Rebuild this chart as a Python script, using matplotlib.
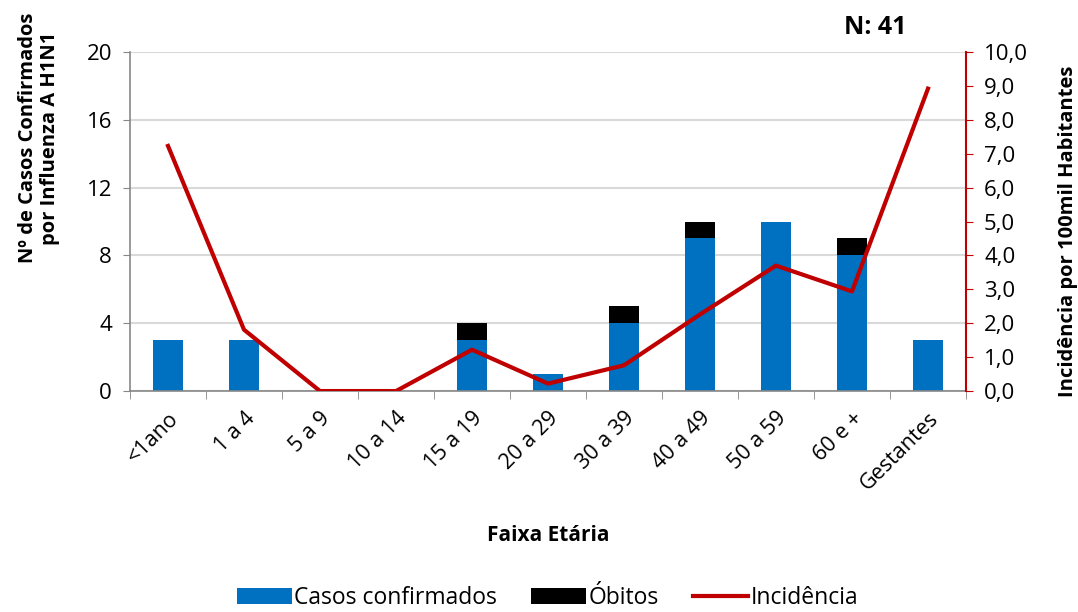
import matplotlib.pyplot as plt
import matplotlib.transforms as mtransforms
import numpy as np
from matplotlib.ticker import FuncFormatter

faixas = ["<1ano", "1 a 4", "5 a 9", "10 a 14", "15 a 19", "20 a 29",
          "30 a 39", "40 a 49", "50 a 59", "60 e +", "Gestantes"]
casos = [3, 3, 0, 0, 3, 1, 4, 9, 10, 8, 3]
obitos = [0, 0, 0, 0, 1, 0, 1, 1, 0, 1, 0]
incidencia = [7.23, 1.81, 0.0, 0.0, 1.22, 0.22, 0.76, 2.26, 3.70, 2.94, 8.92]

plt.rcParams['font.family'] = ['Open Sans', 'DejaVu Sans']

fig = plt.figure(figsize=(10.78, 6.12), dpi=100)
ax = fig.add_axes([0.1206, 0.361, 0.7755, 0.554])
x = np.arange(len(faixas))

b1 = ax.bar(x, casos, width=0.4, color="#0070C0", label="Casos confirmados", zorder=2)
b2 = ax.bar(x, obitos, width=0.4, bottom=casos, color="#000000", label="Óbitos", zorder=2)

ax.set_xlim(-0.5, len(faixas) - 0.5)
ax.set_ylim(0, 20)
ax.set_yticks([0, 4, 8, 12, 16, 20])
ax.yaxis.grid(True, color="#D9D9D9", linewidth=1.5, zorder=0)
ax.set_axisbelow(True)
ax.set_xticks(x)
ax.set_xticklabels(faixas, rotation=45, ha="right", rotation_mode="anchor", fontsize=15.5)
offset = mtransforms.ScaledTranslation(0.07, 0, fig.dpi_scale_trans)
for lab in ax.get_xticklabels():
    lab.set_transform(lab.get_transform() + offset)
ax.set_xticks(np.arange(-0.5, len(faixas)), minor=True)
ax.tick_params(axis="x", which="major", length=0, pad=12)
ax.tick_params(axis="x", which="minor", length=6, color="#878787")
ax.tick_params(axis="y", labelsize=16, color="#878787", length=5, pad=8)
for s in ["top", "right"]:
    ax.spines[s].set_visible(False)
for s in ["left", "bottom"]:
    ax.spines[s].set_color("#878787")
    ax.spines[s].set_linewidth(1.2)
ax.set_ylabel("Nº de Casos Confirmados\npor Influenza A H1N1", fontsize=14.5,
              fontweight="bold", linespacing=1.15)
ax.yaxis.set_label_coords(-0.084, 0.746)
ax.set_xlabel("Faixa Etária", fontsize=15, fontweight="bold", labelpad=22)

ax2 = ax.twinx()
l1, = ax2.plot(x, incidencia, color="#C00000", linewidth=3, label="Incidência", zorder=3)
ax2.set_ylim(0, 10)
ax2.set_yticks(np.arange(0, 11, 1))
ax2.yaxis.set_major_formatter(FuncFormatter(lambda v, p: f"{v:.1f}".replace(".", ",")))
ax2.tick_params(axis="y", labelsize=16, color="#C00000", length=5, pad=8)
for s in ["top", "left", "bottom"]:
    ax2.spines[s].set_visible(False)
ax2.spines["right"].set_color("#C00000")
ax2.spines["right"].set_linewidth(1.5)
ax2.set_ylabel("Incidência por 100mil Habitantes", fontsize=14.5, fontweight="bold")
ax2.yaxis.set_label_coords(1.11, 0.47)

fig.text(0.812, 0.955, "N: 41", fontsize=18, fontweight="bold",
         ha="center", va="center")

fig.legend([b1, b2, l1], ["Casos confirmados", "Óbitos", "Incidência"],
           loc="lower center", bbox_to_anchor=(0.508, -0.03), ncol=3, frameon=False,
           fontsize=16.5, handlelength=2.4, handletextpad=0.1, columnspacing=1.5)

fig.savefig("out.png", dpi=100)
